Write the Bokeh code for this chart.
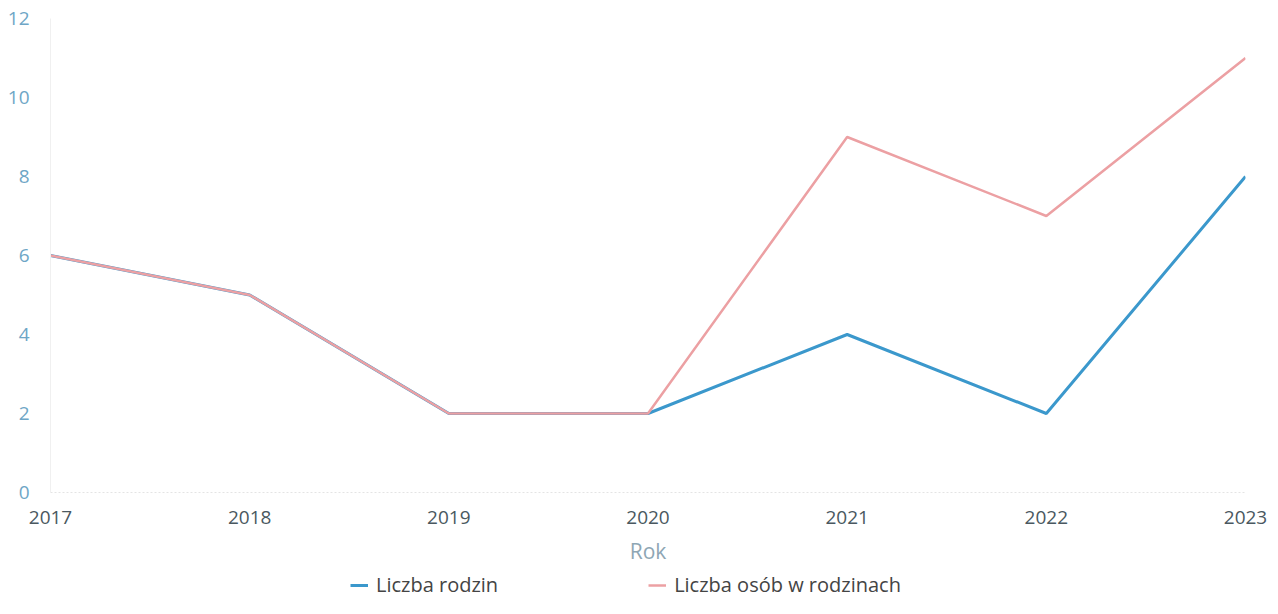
from bokeh.plotting import figure
from bokeh.models import Range1d, FixedTicker, Legend, LegendItem
from bokeh.layouts import column
from bokeh.embed import file_html
from bokeh.resources import INLINE

years = [2017, 2018, 2019, 2020, 2021, 2022, 2023]
liczba_rodzin = [6, 5, 2, 2, 4, 2, 8]
liczba_osob = [6, 5, 2, 2, 9, 7, 11]
y_ticks = [0, 2, 4, 6, 8, 10, 12]
x_title = "Rok"
series_names = ["Liczba rodzin", "Liczba osób w rodzinach"]

FONT = "Open Sans"
BLUE = "#3b98cc"
PINK = "#eca0a3"

p = figure(width=1270, height=570, output_backend="svg", toolbar_location=None,
           x_range=Range1d(2017, 2023), y_range=Range1d(0, 12),
           min_border_left=50, min_border_right=25, min_border_top=18,
           min_border_bottom=78)
p.outline_line_color = None
p.xgrid.grid_line_color = None
p.ygrid.grid_line_color = None

p.line(years, liczba_rodzin, line_color=BLUE, line_width=3)
p.line(years, liczba_osob, line_color=PINK, line_width=2.5)

p.xaxis.ticker = FixedTicker(ticks=years)
p.yaxis.ticker = FixedTicker(ticks=y_ticks)
p.xaxis.axis_label = x_title
p.xaxis.axis_label_text_font = FONT
p.xaxis.axis_label_text_font_style = "normal"
p.xaxis.axis_label_text_font_size = "21px"
p.xaxis.axis_label_text_color = "#8ea6b4"
p.xaxis.axis_label_standoff = 10
p.xaxis.major_label_text_font = FONT
p.xaxis.major_label_text_font_size = "19px"
p.xaxis.major_label_text_color = "#4a5860"
p.xaxis.major_label_standoff = 12
p.xaxis.axis_line_color = "#e4e4e4"
p.xaxis.axis_line_dash = "2 2"
p.xaxis.major_tick_line_color = None
p.xaxis.minor_tick_line_color = None

p.yaxis.major_label_text_font = FONT
p.yaxis.major_label_text_font_size = "19px"
p.yaxis.major_label_text_color = "#6ea6c6"
p.yaxis.major_label_standoff = 15
p.yaxis.axis_line_color = "#f0f0f0"
p.yaxis.major_tick_line_color = None
p.yaxis.minor_tick_line_color = None

# legend strip below the chart (series drawn outside its visible y-range)
lg = figure(width=1270, height=28, output_backend="svg", toolbar_location=None,
            x_range=Range1d(2017, 2023), y_range=Range1d(100, 101),
            min_border_left=0, min_border_right=0, min_border_top=0,
            min_border_bottom=0)
lg.axis.visible = False
lg.xgrid.grid_line_color = None
lg.ygrid.grid_line_color = None
lg.outline_line_color = None
k1 = lg.line(years, liczba_rodzin, line_color=BLUE, line_width=3)
k2 = lg.line(years, liczba_osob, line_color=PINK, line_width=2.5)

legend = Legend(items=[LegendItem(label=series_names[0], renderers=[k1]),
                       LegendItem(label=series_names[1], renderers=[k2])],
                orientation="horizontal", location=(300, 0),
                label_text_font=FONT, label_text_font_size="20px",
                label_text_color="#444444", spacing=150, label_standoff=8,
                glyph_width=18, glyph_height=16, label_height=16,
                padding=0, margin=0, border_line_color=None,
                background_fill_alpha=0)
lg.add_layout(legend, "center")

layout = column(p, lg, spacing=0)
open("out.html", "w").write(file_html(layout, INLINE))
